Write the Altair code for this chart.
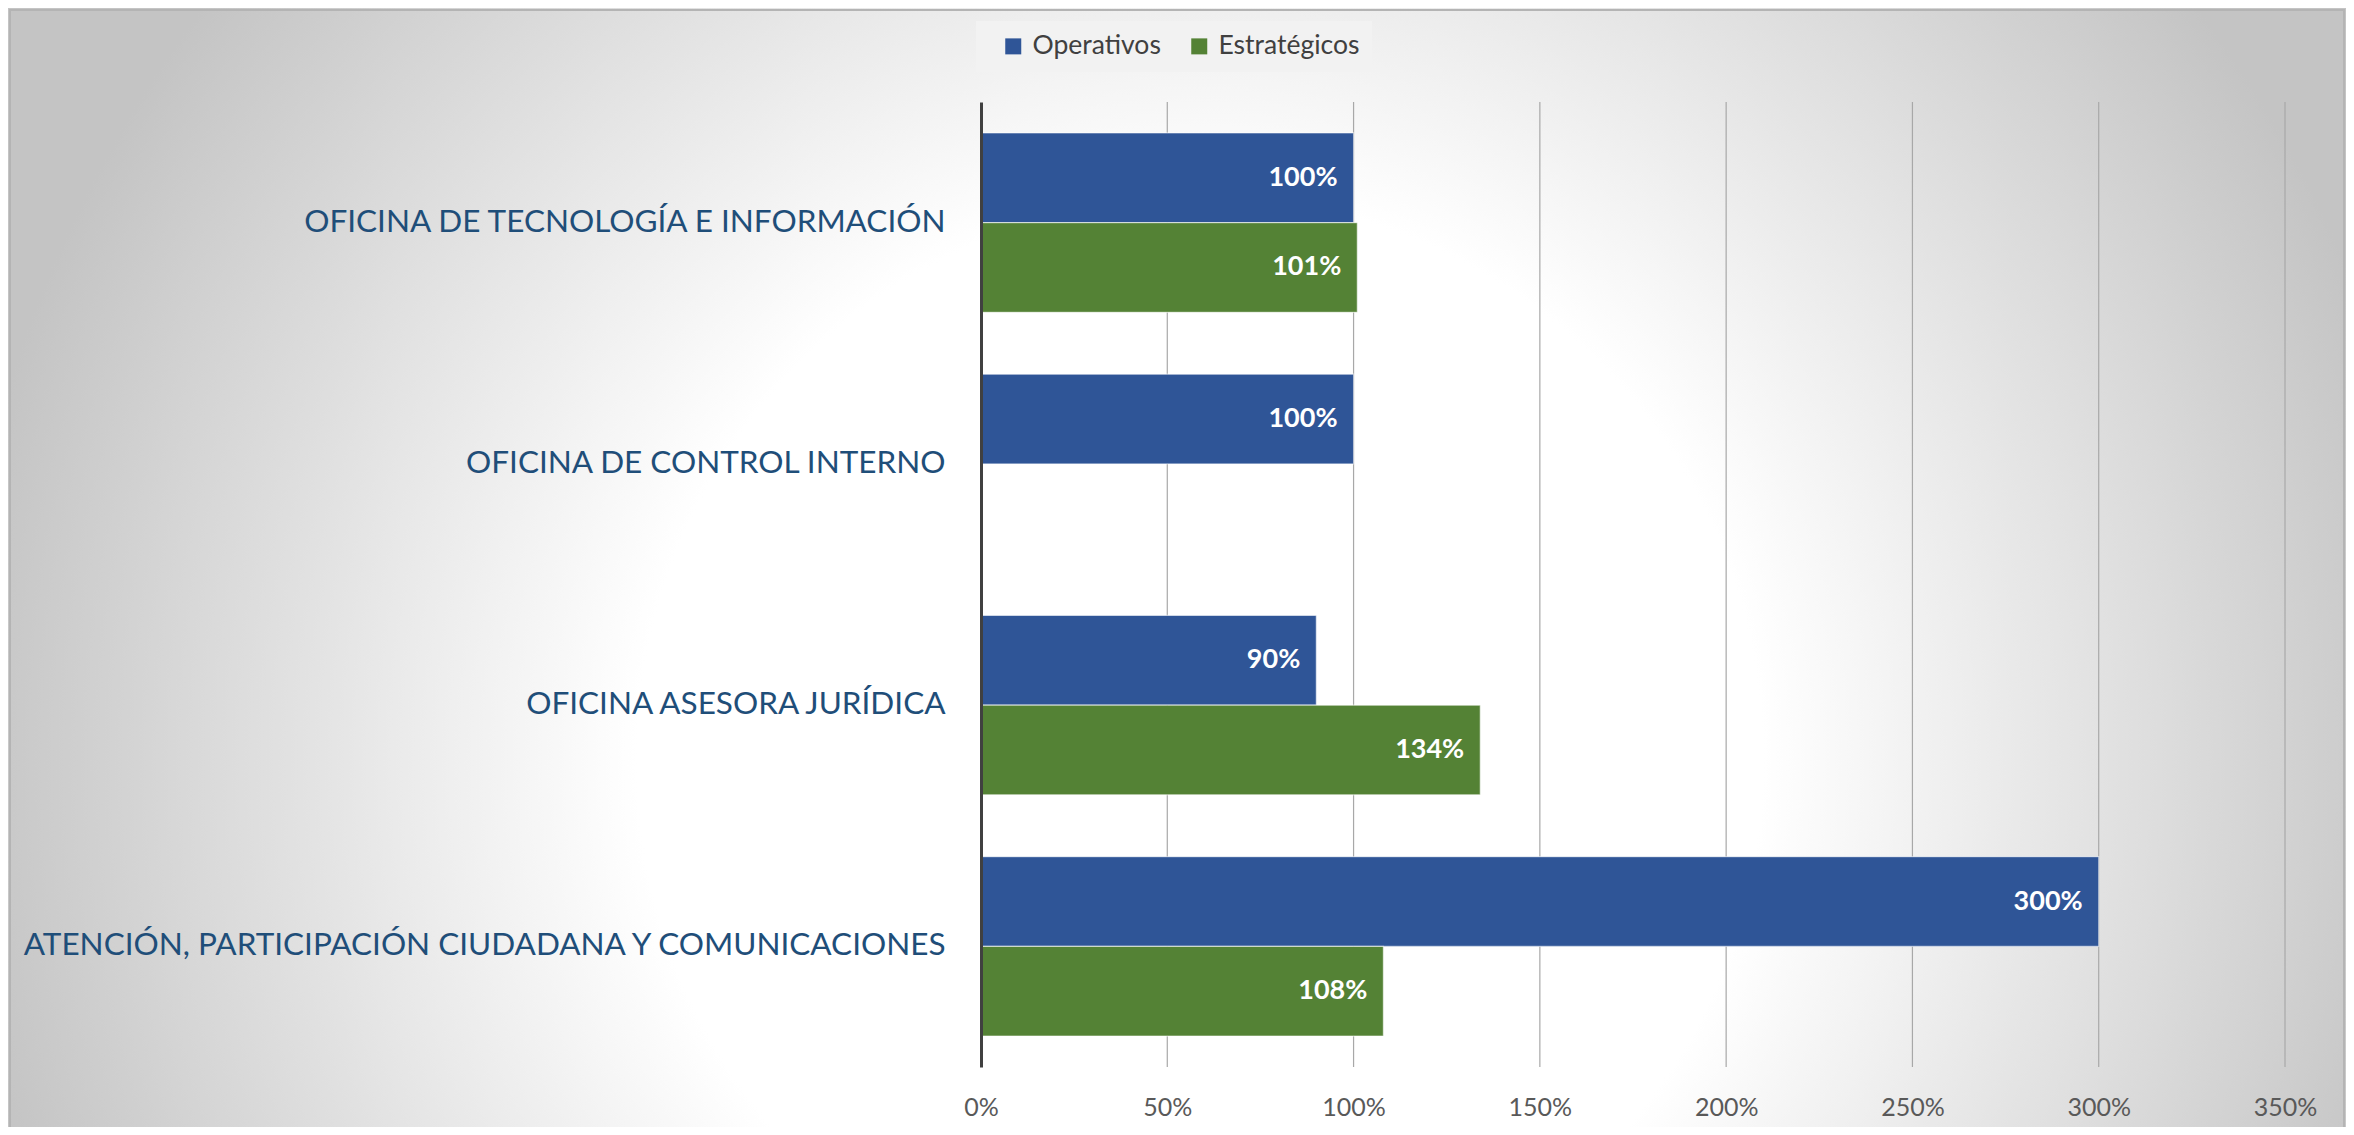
import altair as alt
import pandas as pd

categories = [
    "OFICINA DE TECNOLOGÍA E INFORMACIÓN",
    "OFICINA DE CONTROL INTERNO",
    "OFICINA ASESORA JURÍDICA",
    "ATENCIÓN, PARTICIPACIÓN CIUDADANA Y COMUNICACIONES",
]
series = ["Operativos", "Estratégicos"]
operativos = [1.00, 1.00, 0.90, 3.00]
estrategicos = [1.01, None, 1.34, 1.08]
x_ticks = [0, 0.5, 1.0, 1.5, 2.0, 2.5, 3.0, 3.5]
colors = ["#2F5597", "#548235"]

rows = []
for c, o, e in zip(categories, operativos, estrategicos):
    if o is not None:
        rows.append({"cat": c, "serie": series[0], "v": o})
    if e is not None:
        rows.append({"cat": c, "serie": series[1], "v": e})
df = pd.DataFrame(rows)
grid_df = pd.DataFrame({"v": x_ticks[1:]})

W, H = 1304, 965
PAD_L, PAD_T, PAD_R, PAD_B = 973, 94, 61, 60

xscale = alt.Scale(domain=[0, 3.5], nice=False, zero=True)
yscale = alt.Scale(domain=categories, paddingInner=0.256, paddingOuter=0.128)
font = "Lato"

x_axis = alt.Axis(
    values=x_ticks, format=".0%", labelFont=font, labelFontSize=25,
    labelColor="#595959", labelPadding=28, ticks=False, domain=False,
    grid=False, zindex=2, labelFlush=False,
)
y_axis = alt.Axis(
    labelFont=font, labelFontSize=31.5, labelColor="#1F4E79",
    labelPadding=36, ticks=False, domain=True, domainColor="#404040",
    domainWidth=3, labelLimit=0, grid=False, zindex=2,
)

one = pd.DataFrame({"a": [0]})

# background with radial gradient
cx, cy, S = 1200 - 981, 760 - 102, 1250
bg = alt.Chart(one).mark_rect(
    fill={
        "gradient": "radial",
        "x1": 0.5, "y1": 0.5, "r1": 0,
        "x2": 0.5, "y2": 0.5, "r2": 0.5,
        "stops": [
            {"offset": 0, "color": "#ffffff"},
            {"offset": 0.45, "color": "#ffffff"},
            {"offset": 1, "color": "#c4c4c4"},
        ],
    },
).encode(
    x=alt.value(cx - S), x2=alt.value(cx + S),
    y=alt.value(cy - S), y2=alt.value(cy + S),
)

border = alt.Chart(one).mark_rect(
    fill="transparent", stroke="#b4b4b4", strokeWidth=2
).encode(
    x=alt.value(-971), x2=alt.value(W + PAD_R - 2),
    y=alt.value(-92), y2=alt.value(H + PAD_B + 20),
)

grid = alt.Chart(grid_df).mark_rule(color="#a8a8a8", strokeWidth=1.2).encode(
    x=alt.X("v:Q", scale=xscale, title=None, axis=x_axis),
    y=alt.value(0), y2=alt.value(H),
)

bars = alt.Chart(df).mark_bar(
    stroke="#ffffff", strokeOpacity=0.55, strokeWidth=1.2
).encode(
    y=alt.Y("cat:N", scale=yscale, sort=categories, title=None, axis=y_axis),
    yOffset=alt.YOffset("serie:N", sort=series, scale=alt.Scale(domain=series)),
    x=alt.X("v:Q", scale=xscale, title=None, axis=x_axis),
    color=alt.Color(
        "serie:N", sort=series,
        scale=alt.Scale(domain=series, range=colors),
        legend=alt.Legend(
            title=None, orient="none", direction="horizontal",
            legendX=-5, legendY=-81, symbolType="square", symbolSize=256,
            symbolStrokeWidth=0, labelFont=font, labelFontSize=26.5,
            labelColor="#404040", fillColor="#f2f2f2", padding=12,
            columnPadding=13, symbolOffset=12, labelOffset=6,
        ),
    ),
)

labels = alt.Chart(df).mark_text(
    align="right", baseline="middle", dx=-16, font=font, fontSize=27,
    fontWeight="bold", color="#ffffff",
).encode(
    y=alt.Y("cat:N", scale=yscale, sort=categories, title=None, axis=y_axis),
    yOffset=alt.YOffset("serie:N", sort=series, scale=alt.Scale(domain=series)),
    x=alt.X("v:Q", scale=xscale, title=None, axis=x_axis),
    text=alt.Text("v:Q", format=".0%"),
)

chart = alt.layer(bg, grid, bars, labels, border).properties(
    width=W, height=H,
    autosize=alt.AutoSizeParams(type="none"),
    padding={"left": PAD_L, "top": PAD_T, "right": PAD_R, "bottom": PAD_B},
).configure_view(stroke=None)

chart.save("out.html", embed_options={"renderer": "svg", "actions": False})
